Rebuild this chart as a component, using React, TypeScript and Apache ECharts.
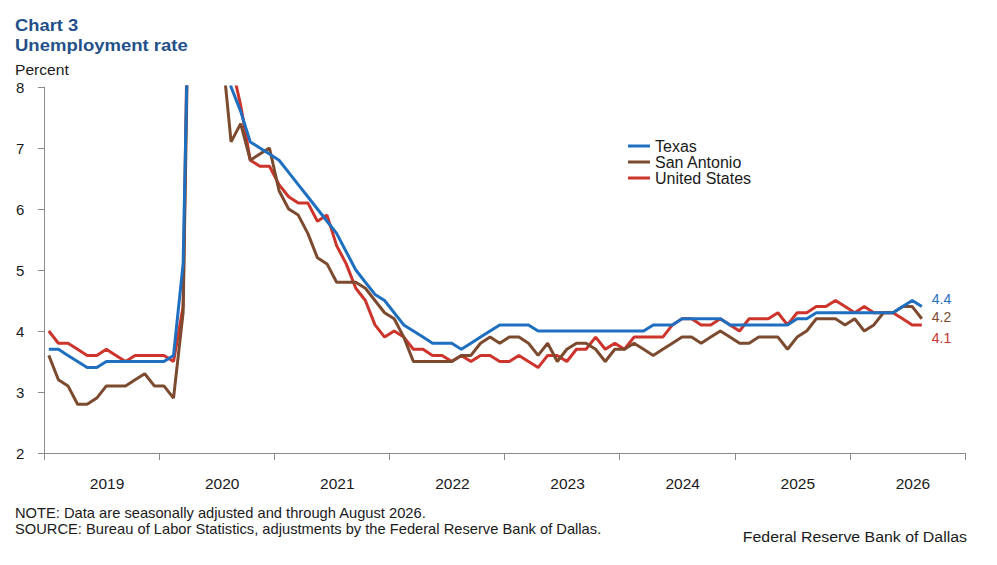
import React, { useEffect, useRef } from "react";
import * as echarts from "echarts";

// Year labels on the x axis (each band = 12 months, Jan 2019 – Dec 2026)
const years = ["2019", "2020", "2021", "2022", "2023", "2024", "2025", "2026"];

// Monthly unemployment rates, Jan 2019 – Aug 2026 (percent)
const texas = [
  3.7, 3.7, 3.6, 3.5, 3.4, 3.4, 3.5, 3.5, 3.5, 3.5, 3.5, 3.5,
  3.5, 3.6, 5.1, 12.9, 13.0, 11.0, 8.8, 8.0, 7.6, 7.1, 7.0, 6.9,
  6.8, 6.6, 6.4, 6.2, 6.0, 5.8, 5.6, 5.3, 5.0, 4.8, 4.6, 4.5,
  4.3, 4.1, 4.0, 3.9, 3.8, 3.8, 3.8, 3.7, 3.8, 3.9, 4.0, 4.1,
  4.1, 4.1, 4.1, 4.0, 4.0, 4.0, 4.0, 4.0, 4.0, 4.0, 4.0, 4.0,
  4.0, 4.0, 4.0, 4.1, 4.1, 4.1, 4.2, 4.2, 4.2, 4.2, 4.2, 4.1,
  4.1, 4.1, 4.1, 4.1, 4.1, 4.1, 4.2, 4.2, 4.3, 4.3, 4.3, 4.3,
  4.3, 4.3, 4.3, 4.3, 4.3, 4.4, 4.5, 4.4,
];

const sanAntonio = [
  3.6, 3.2, 3.1, 2.8, 2.8, 2.9, 3.1, 3.1, 3.1, 3.2, 3.3, 3.1,
  3.1, 2.9, 4.3, 13.5, 12.9, 10.1, 8.7, 7.1, 7.4, 6.8, 6.9, 7.0,
  6.3, 6.0, 5.9, 5.6, 5.2, 5.1, 4.8, 4.8, 4.8, 4.7, 4.5, 4.3,
  4.2, 3.9, 3.5, 3.5, 3.5, 3.5, 3.5, 3.6, 3.6, 3.8, 3.9, 3.8,
  3.9, 3.9, 3.8, 3.6, 3.8, 3.5, 3.7, 3.8, 3.8, 3.7, 3.5, 3.7,
  3.7, 3.8, 3.7, 3.6, 3.7, 3.8, 3.9, 3.9, 3.8, 3.9, 4.0, 3.9,
  3.8, 3.8, 3.9, 3.9, 3.9, 3.7, 3.9, 4.0, 4.2, 4.2, 4.2, 4.1,
  4.2, 4.0, 4.1, 4.3, 4.3, 4.4, 4.4, 4.2,
];

const unitedStates = [
  4.0, 3.8, 3.8, 3.7, 3.6, 3.6, 3.7, 3.6, 3.5, 3.6, 3.6, 3.6,
  3.6, 3.5, 4.4, 14.8, 13.2, 11.0, 10.2, 8.4, 7.7, 6.8, 6.7, 6.7,
  6.4, 6.2, 6.1, 6.1, 5.8, 5.9, 5.4, 5.1, 4.7, 4.5, 4.1, 3.9,
  4.0, 3.9, 3.7, 3.7, 3.6, 3.6, 3.5, 3.6, 3.5, 3.6, 3.6, 3.5,
  3.5, 3.6, 3.5, 3.4, 3.6, 3.6, 3.5, 3.7, 3.7, 3.9, 3.7, 3.8,
  3.7, 3.9, 3.9, 3.9, 3.9, 4.1, 4.2, 4.2, 4.1, 4.1, 4.2, 4.1,
  4.0, 4.2, 4.2, 4.2, 4.3, 4.1, 4.3, 4.3, 4.4, 4.4, 4.5, 4.4,
  4.3, 4.4, 4.3, 4.3, 4.3, 4.2, 4.1, 4.1,
];

const seriesNames = ["Texas", "San Antonio", "United States"];
const seriesColors = ["#1f6fc0", "#7c4a2f", "#cc342c"];
const endLabelOffsets: [number, number][] = [
  [2, -8],
  [2, -2],
  [2, 13],
];

const FONT = "'Liberation Sans', Arial, sans-serif";
const TITLE_COLOR = "#24508a";
const TEXT_COLOR = "#1a1a1a";

export default function App() {
  const ref = useRef<HTMLDivElement>(null);

  useEffect(() => {
    if (!ref.current) return;
    const chart = echarts.init(ref.current, undefined, { renderer: "svg" });

    const allData = [texas, sanAntonio, unitedStates];

    const option: any = {
      animation: false,
      backgroundColor: "#ffffff",
      textStyle: { fontFamily: FONT },
      grid: { left: 44, top: 87, width: 921, height: 366, containLabel: false },
      legend: {
        orient: "vertical",
        left: 628,
        top: 138,
        padding: 0,
        itemWidth: 22,
        itemHeight: 3,
        itemGap: 0,
        icon: "rect",
        data: seriesNames,
        textStyle: { fontFamily: FONT, fontSize: 16, color: TEXT_COLOR, lineHeight: 15.5 },
      },
      xAxis: [
        {
          type: "category",
          position: "bottom",
          data: years,
          boundaryGap: true,
          axisLine: { lineStyle: { color: "#8a8a8a", width: 1 } },
          axisTick: { show: true, interval: 0, length: 7, lineStyle: { color: "#8a8a8a" } },
          axisLabel: {
            interval: 0,
            margin: 22,
            padding: [0, 0, 0, 11],
            fontFamily: FONT,
            fontSize: 15.5,
            color: TEXT_COLOR,
          },
          splitLine: { show: false },
        },
        {
          type: "value",
          show: false,
          min: 0,
          max: years.length * 12,
          position: "top",
          splitLine: { show: false },
        },
      ],
      yAxis: {
        type: "value",
        min: 2,
        max: 8,
        interval: 1,
        axisLine: { show: true, lineStyle: { color: "#8a8a8a", width: 1 } },
        axisTick: { show: true, length: 6, lineStyle: { color: "#8a8a8a" } },
        axisLabel: {
          align: "left",
          margin: 28,
          fontFamily: FONT,
          fontSize: 15,
          color: TEXT_COLOR,
        },
        splitLine: { show: false },
      },
      series: allData.map((vals, i) => ({
        name: seriesNames[i],
        type: "line",
        xAxisIndex: 1,
        yAxisIndex: 0,
        data: vals.map((v, m) => [m + 0.5, v]),
        symbol: "none",
        clip: true,
        color: seriesColors[i],
        lineStyle: { color: seriesColors[i], width: 3 },
        endLabel: {
          show: true,
          distance: 8,
          offset: endLabelOffsets[i],
          color: seriesColors[i],
          fontFamily: FONT,
          fontSize: 14,
          formatter: (p: any) => Number(p.value[1]).toFixed(1),
        },
        z: 3 - i,
      })),
      graphic: [
        {
          type: "text",
          x: 15,
          y: 17,
          scaleX: 1.08,
          style: { text: "Chart 3", font: `bold 17px ${FONT}`, fill: TITLE_COLOR },
        },
        {
          type: "text",
          x: 15,
          y: 37,
          scaleX: 1.09,
          style: { text: "Unemployment rate", font: `bold 17px ${FONT}`, fill: TITLE_COLOR },
        },
        {
          type: "text",
          x: 15,
          y: 62,
          scaleX: 1.04,
          style: { text: "Percent", font: `15px ${FONT}`, fill: TEXT_COLOR },
        },
        {
          type: "text",
          x: 15,
          y: 506,
          scaleX: 1.05,
          style: {
            text: "NOTE: Data are seasonally adjusted and through August 2026.",
            font: `14px ${FONT}`,
            fill: TEXT_COLOR,
          },
        },
        {
          type: "text",
          x: 15,
          y: 522,
          scaleX: 1.05,
          style: {
            text: "SOURCE: Bureau of Labor Statistics, adjustments by the Federal Reserve Bank of Dallas.",
            font: `14px ${FONT}`,
            fill: TEXT_COLOR,
          },
        },
        {
          type: "text",
          x: 967,
          y: 529,
          scaleX: 1.06,
          style: {
            text: "Federal Reserve Bank of Dallas",
            font: `15px ${FONT}`,
            fill: TEXT_COLOR,
            align: "right",
          },
        },
      ],
    };

    chart.setOption(option);
    return () => {
      chart.dispose();
    };
  }, []);

  return (
    <div
      ref={ref}
      style={{ position: "fixed", left: 0, top: 0, width: 997, height: 565, background: "#fff" }}
    />
  );
}
